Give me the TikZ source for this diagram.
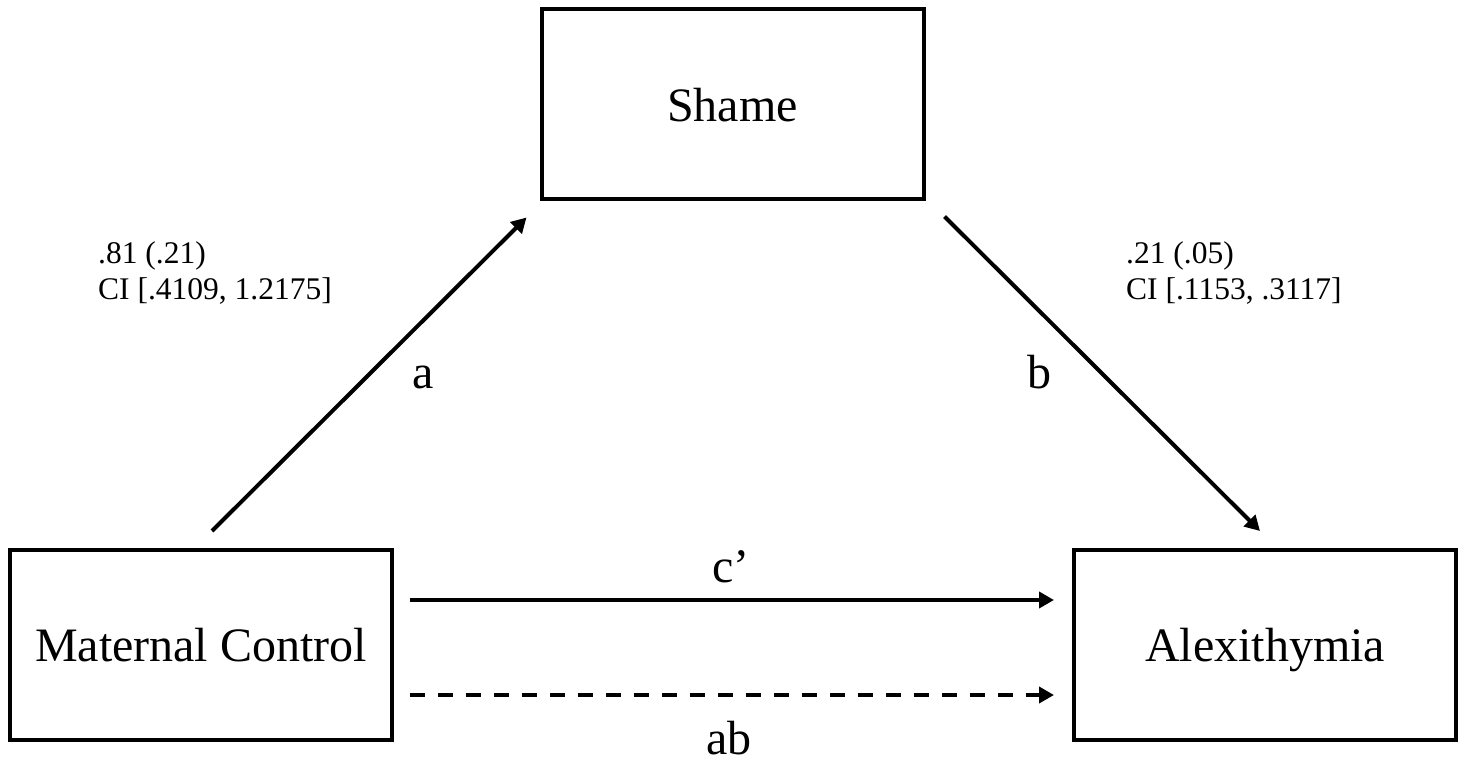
\documentclass[tikz,border=0pt]{standalone}
\usepackage{fontspec}
\setmainfont{Liberation Serif}
\usetikzlibrary{arrows.meta,calc}

\begin{document}
\begin{tikzpicture}[x=1pt,y=-1pt,
  varbox/.style={draw,line width=4pt,minimum width=382pt,minimum height=190pt,
    inner sep=0pt,font=\fontsize{48}{56}\selectfont,text height=33.6pt,text depth=0pt},
  path/.style={line width=4pt,-{Triangle[length=15pt,width=16pt]}},
  indirect/.style={path,dash pattern=on 15pt off 13pt},
  pathlbl/.style={anchor=base,inner sep=0pt,font=\fontsize{48}{56}\selectfont},
  coef/.style={anchor=base west,inner sep=0pt,font=\fontsize{31.5}{36}\selectfont}]

  \useasboundingbox (0,0) rectangle (1461,759);

  % variables
  \node[varbox] (shame) at (732.5,104.5) {Shame};
  \node[varbox] (mat)   at (201,645)     {Maternal Control};
  \node[varbox] (alex)  at (1265,645)    {Alexithymia};

  % end points of the paths, set back from the boxes
  \coordinate (a0)  at ($(mat.north)+(11,-17)$);
  \coordinate (a1)  at ($(shame.south west)+(-13,16)$);
  \coordinate (b0)  at ($(shame.south east)+(19,15)$);
  \coordinate (b1)  at ($(alex.north)+(-5,-17)$);
  \coordinate (c0)  at ($(mat.east)+(16,-45)$);
  \coordinate (c1)  at ($(alex.west)+(-18,-45)$);
  \coordinate (ab0) at ($(mat.east)+(16,50)$);
  \coordinate (ab1) at ($(alex.west)+(-18,50)$);

  % paths
  \draw[path] (a0) -- (a1);
  \draw[path] (b0) -- (b1);
  \draw[path] (c0) -- (c1);
  \draw[indirect] (ab0) -- (ab1);

  % path labels
  \node[pathlbl] (la)  at (423,388)  {a};
  \node[pathlbl] (lb)  at (1039,388) {b};
  \node[pathlbl] (lc)  at (731,582)  {c’};
  \node[pathlbl] (lab) at (729,754)  {ab};

  % coefficients
  \node[coef] (ca1) at (98,264)   {.81 (.21)};
  \node[coef] (ca2) at (98,299)   {CI [.4109, 1.2175]};
  \node[coef] (cb1) at (1126,264) {.21 (.05)};
  \node[coef] (cb2) at (1126,299) {CI [.1153, .3117]};
\end{tikzpicture}
\end{document}
